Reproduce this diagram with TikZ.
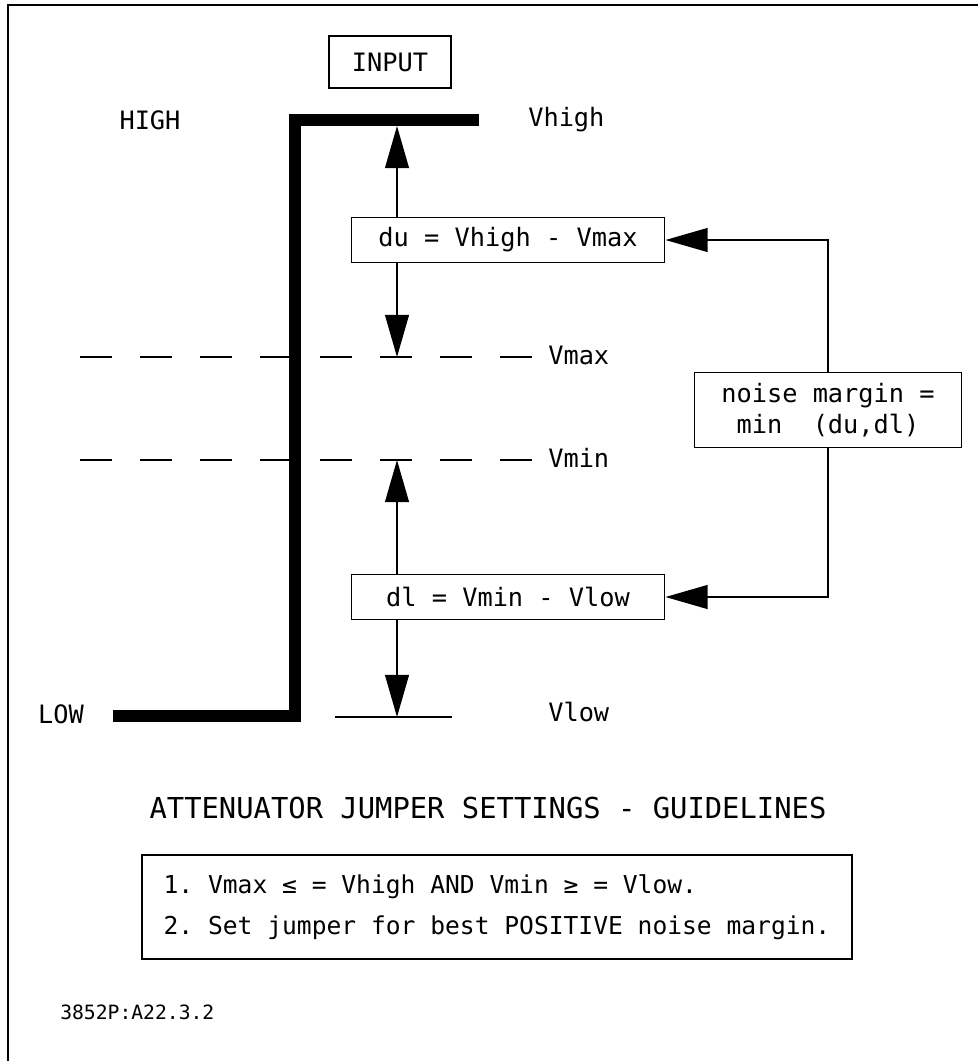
\documentclass[tikz,border=0pt]{standalone}
\usepackage{fontspec}
\setmonofont{DejaVu Sans Mono}
\usetikzlibrary{positioning,arrows.meta}
\newcommand{\labfont}{\ttfamily\fontsize{18}{22}\selectfont}
\newcommand{\rulefont}{\ttfamily\fontsize{17.5}{29}\selectfont}
\newcommand{\headfont}{\ttfamily\fontsize{20.5}{24}\selectfont}
\newcommand{\tagfont}{\ttfamily\fontsize{14}{17}\selectfont}
\tikzset{
  boxnode/.style={draw,line width=1.2pt,font=\labfont,inner sep=0pt},
  lab/.style={font=\labfont,inner sep=0pt},
  trace/.style={line width=8.5pt},
  thinline/.style={line width=1.1pt},
  dashline/.style={line width=1.3pt,dash pattern=on 22.8pt off 19.9pt},
  dimarrow/.style={line width=1.1pt,-{Triangle[length=30pt,width=17pt]}},
}
\begin{document}
\begin{tikzpicture}[x=0.025cm,y=-0.025cm]
  \useasboundingbox (0,0) rectangle (978,1061);
  % frame
  \draw[line width=1.4pt] (978,5) -- (8,5) -- (8,1061);
  % input waveform
  \node[boxnode,minimum width=3.05cm,minimum height=1.3cm] (input) at (390,62) {INPUT};
  \node[lab] (high) at (150,120) {HIGH};
  \node[lab] (low) at (61,714) {LOW};
  \coordinate (hiend) at (479,120);
  \coordinate (hicorner) at (295,120);
  \coordinate (locorner) at (295,716);
  \coordinate (lostart) at (113,716);
  \draw[trace] (hiend) -- (hicorner) -- (locorner) -- (lostart);
  % levels
  \node[lab,anchor=west] (vhigh) at (528,120) {Vhigh};
  \coordinate (vhightip) at (397,126);
  \coordinate (vmaxtip) at (397,357);
  \coordinate (vmintip) at (397,460);
  \coordinate (vlowtip) at (397,717);
  \draw[dashline] (532,357) -- (60,357);
  \draw[dashline] (532,460) -- (60,460);
  \draw[thinline] (335,717) -- (452,717);
  \node[lab,anchor=west] (vmax) at (548,355) {Vmax};
  \node[lab,anchor=west] (vmin) at (548,458) {Vmin};
  \node[lab,anchor=west] (vlow) at (548,712) {Vlow};
  % differences
  \node[boxnode,minimum width=7.83cm,minimum height=1.125cm] (du) at (508,240) {du = Vhigh - Vmax};
  \node[boxnode,minimum width=7.83cm,minimum height=1.125cm] (dl) at (508,597) {dl = Vmin - Vlow};
  \draw[dimarrow] (du.north -| vhightip) -- (vhightip);
  \draw[dimarrow] (du.south -| vmaxtip) -- (vmaxtip);
  \draw[dimarrow] (dl.north -| vmintip) -- (vmintip);
  \draw[dimarrow] (dl.south -| vlowtip) -- (vlowtip);
  % noise margin
  \node[boxnode,minimum width=6.675cm,minimum height=1.875cm,align=left] (noise) at (828,410)
    {noise margin =\\\hphantom{x}min\ \ (du,dl)};
  \draw[dimarrow] (noise.north) |- (du.east);
  \draw[dimarrow] (noise.south) |- (dl.east);
  % guidelines
  \node[font=\headfont,inner sep=0pt] (title) at (488,808) {ATTENUATOR JUMPER SETTINGS - GUIDELINES};
  \node[boxnode,minimum width=17.75cm,minimum height=2.6cm,align=left,font=\rulefont] (rules) at (497,907)
    {1. Vmax ≤ = Vhigh AND Vmin ≥ = Vlow.\\2. Set jumper for best POSITIVE noise margin.};
  \node[font=\tagfont,inner sep=0pt,anchor=west] (tag) at (60,1012) {3852P:A22.3.2};
\end{tikzpicture}
\end{document}
